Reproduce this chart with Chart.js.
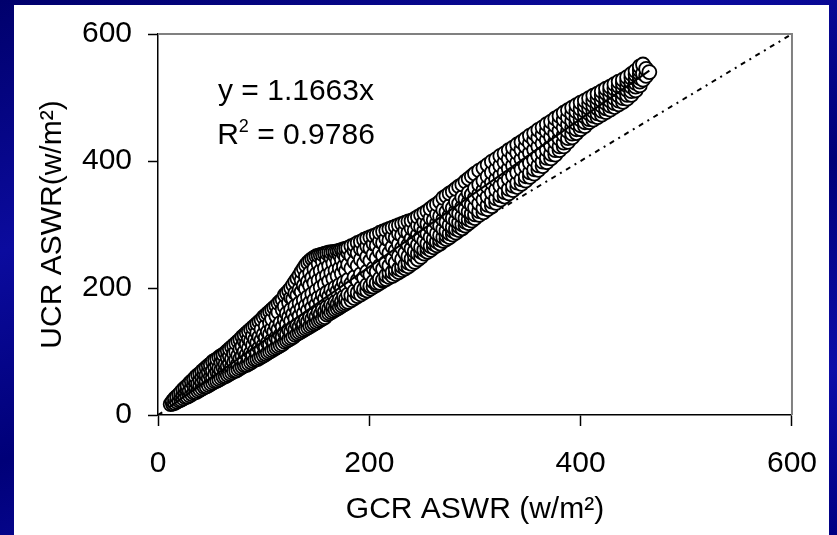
<!DOCTYPE html>
<html>
<head>
<meta charset="utf-8">
<script src="https://cdn.jsdelivr.net/npm/chart.js@4.4.0/dist/chart.umd.min.js"></script>
<style>
html, body { margin: 0; padding: 0; }
body {
    width: 837px; height: 535px; overflow: hidden; position: relative;
    background: linear-gradient(160deg, #00006c 0%, #0b0b9e 30%, #000078 55%, #0d0da8 80%, #000082 100%);
    font-family: "Liberation Sans", Arial, sans-serif;
}
#panel { position: absolute; left: 14px; top: 5px; width: 815px; height: 540px; background: #fff; }
#chartBox { position: absolute; left: 0; top: 0; width: 837px; height: 535px; }
.eq { position: absolute; font-size: 30px; line-height: 30px; color: #000; white-space: nowrap; transform: translateX(-50%); }
.sup { font-size: 18px; position: relative; top: -12px; }
</style>
</head>
<body>
<div id="panel"></div>
<div id="chartBox"><canvas id="chart" width="837" height="535"></canvas></div>
<div class="eq" style="left:296px; top:75px;">y = 1.1663x</div>
<div class="eq" style="left:296px; top:119px;">R<span class="sup">2</span> = 0.9786</div>
<script>
// GCR ASWR (x) columns, each with the UCR ASWR (y) values
const gcrAswr = [12, 14, 16, 18, 20, 22, 24, 26, 28, 30, 32, 34, 36, 38, 40, 42, 44, 46, 48, 50, 52, 54, 56, 58, 60,
    62, 64, 66, 68, 70, 72, 74, 76, 78, 80, 82, 84, 86, 88, 90, 92, 94, 96, 98, 100, 102, 104, 106, 108, 110, 112,
    114, 116, 118, 120, 122, 124, 126, 128, 130, 132, 134, 136, 138, 140, 142, 144, 146, 148, 150, 152, 154, 156, 158,
    160, 162, 164, 166, 168, 170, 172, 174, 176, 178, 180, 183, 186, 189, 192, 195, 198, 201, 204, 207, 210, 213, 216,
    219, 222, 225, 228, 231, 234, 237, 240, 243, 246, 249, 252, 255, 258, 261, 264, 267, 270, 273, 276, 279, 282, 285,
    288, 291, 294, 297, 300, 304, 308, 312, 316, 320, 324, 328, 332, 336, 340, 344, 348, 352, 356, 360, 364, 368, 372,
    376, 380, 384, 388, 392, 396, 400, 404, 408, 412, 416, 420, 424, 428, 432, 436, 440, 444, 448, 452, 456, 459, 462,
    465];
const ucrAswr = [
    [17], [18, 22], [19, 26], [21, 29], [23, 32], [24, 30, 36], [26, 33, 40], [28, 37, 43], [29, 40, 46], [31, 38, 50],
    [33, 43, 53], [35, 47, 56], [36, 44, 52, 60], [38, 49, 63], [40, 47, 56, 65], [42, 52, 61, 69], [44, 55, 65, 72],
    [45, 53, 63, 75], [47, 58, 68, 78], [49, 61, 72, 80], [51, 59, 70, 84], [53, 64, 76, 86], [54, 68, 79, 88],
    [56, 66, 74, 91], [58, 71, 83, 93], [60, 75, 86, 95], [61, 70, 80, 98], [63, 77, 90, 101], [65, 81, 93, 104],
    [67, 76, 88, 107], [69, 83, 97, 110], [70, 87, 100, 113], [72, 81, 94, 116], [74, 89, 104, 119], [76, 93, 108, 123],
    [78, 86, 100, 116, 126], [79, 95, 112, 129], [81, 91, 105, 120, 132], [83, 98, 116, 135], [85, 95, 110, 125, 138],
    [87, 102, 119, 141], [88, 99, 114, 130, 144], [90, 106, 123, 147], [92, 103, 118, 135, 150], [94, 110, 127, 154],
    [96, 107, 122, 140, 157], [98, 114, 131, 160], [100, 111, 127, 145, 163], [102, 118, 136, 151, 166],
    [104, 115, 131, 169], [106, 122, 140, 156, 172], [108, 119, 135, 162, 176], [110, 126, 145, 179],
    [112, 123, 139, 166, 182], [115, 130, 150, 171, 189], [117, 127, 143, 160, 192], [119, 134, 154, 177, 196],
    [121, 131, 148, 166, 185, 200], [123, 138, 159, 183, 205], [126, 135, 152, 171, 192, 210],
    [128, 142, 163, 189, 215], [130, 139, 156, 176, 198, 220], [132, 146, 168, 194, 212, 226],
    [134, 143, 160, 181, 204, 231], [136, 150, 172, 199, 218, 236], [138, 147, 165, 186, 210, 240],
    [140, 154, 177, 204, 224, 243], [142, 151, 169, 191, 216, 246], [144, 158, 181, 208, 230, 248],
    [146, 155, 174, 196, 222, 250], [148, 162, 185, 212, 238, 251], [150, 159, 178, 201, 227, 252],
    [152, 166, 189, 216, 242, 253], [154, 163, 183, 206, 231, 254], [158, 170, 193, 220, 245, 255],
    [160, 167, 187, 211, 235, 256], [162, 174, 197, 224, 248, 256], [164, 171, 191, 215, 239, 257],
    [166, 178, 201, 228, 250, 257], [168, 175, 195, 219, 242, 258], [170, 182, 205, 231, 252, 259],
    [172, 179, 199, 223, 245, 260], [174, 186, 209, 234, 254, 261], [176, 183, 203, 227, 248, 262],
    [178, 190, 213, 237, 256, 263], [181, 188, 207, 231, 251, 266], [184, 195, 217, 241, 259, 268],
    [187, 193, 212, 235, 255, 271], [190, 200, 222, 245, 262, 273], [193, 198, 216, 239, 259, 276],
    [196, 205, 226, 249, 266, 278], [199, 203, 221, 243, 263, 280], [202, 210, 231, 253, 270, 282],
    [205, 208, 226, 247, 267, 284], [208, 215, 235, 257, 274, 287], [211, 213, 230, 251, 271, 289],
    [214, 220, 240, 261, 278, 291], [217, 224, 235, 255, 275, 293], [219, 225, 245, 265, 282, 295],
    [222, 229, 240, 259, 279, 297], [225, 230, 250, 269, 286, 299], [228, 234, 245, 263, 283, 301],
    [231, 236, 255, 273, 290, 303], [234, 240, 250, 268, 287, 305],
    [238, 246, 262, 278, 294, 306], [241, 251, 258, 274, 291, 309], [245, 254, 268, 284, 299, 312],
    [249, 257, 264, 280, 296, 315], [254, 260, 274, 290, 304, 318], [257, 263, 270, 286, 301, 321],
    [260, 266, 280, 296, 310, 325], [264, 270, 277, 292, 307, 329], [267, 273, 286, 302, 316, 332],
    [270, 276, 283, 298, 313, 336], [274, 280, 293, 308, 323, 342], [277, 283, 290, 304, 320, 345],
    [280, 286, 299, 314, 329, 349], [284, 290, 296, 310, 326, 352], [287, 293, 306, 321, 336, 356],
    [291, 297, 303, 317, 333, 360], [294, 300, 313, 328, 343, 363], [298, 304, 310, 324, 340, 368],
    [302, 308, 320, 335, 350, 372], [306, 312, 317, 331, 347, 376], [310, 316, 327, 342, 357, 380],
    [315, 321, 333, 348, 363, 385], [319, 326, 339, 354, 369, 389], [324, 331, 344, 360, 376, 394],
    [329, 336, 350, 366, 382, 399], [334, 341, 355, 371, 387, 403], [339, 346, 361, 377, 393, 408],
    [344, 351, 366, 382, 398, 412], [349, 356, 372, 388, 403, 417], [354, 361, 377, 393, 408, 421],
    [359, 366, 382, 398, 413, 426], [364, 371, 387, 403, 418, 430], [369, 376, 392, 408, 423, 435],
    [375, 382, 397, 413, 428, 440], [380, 387, 402, 418, 433, 444], [386, 393, 408, 423, 437, 449],
    [392, 399, 413, 428, 442, 453], [398, 405, 418, 433, 447, 458], [404, 411, 424, 438, 451, 462],
    [410, 417, 430, 443, 456, 467], [417, 423, 435, 448, 461, 471], [423, 429, 441, 453, 465, 476],
    [430, 436, 447, 458, 469, 480], [437, 443, 453, 463, 474, 484], [444, 450, 459, 468, 478, 488],
    [450, 456, 465, 474, 482, 492], [455, 461, 470, 479, 487, 495], [461, 466, 475, 483, 491, 499],
    [465, 471, 479, 487, 495, 503], [469, 475, 483, 491, 499, 506], [473, 479, 487, 495, 503, 510],
    [477, 483, 491, 499, 507, 514], [481, 487, 495, 503, 511, 517], [485, 491, 499, 507, 514, 521],
    [489, 495, 503, 511, 518, 525], [493, 499, 507, 515, 522, 528], [498, 504, 512, 519, 526, 532],
    [504, 510, 517, 524, 531, 537], [511, 517, 523, 530, 536, 542], [519, 525, 531, 537, 543, 549],
    [528, 538, 552], [534, 545], [540]
];
const trendSlope = 1.1663;
const trendRange = [10, 465];
const identityRange = [0, 600];
const axisTicks = [0, 200, 400, 600];
const xTitle = 'GCR ASWR (w/m²)';
const yTitle = 'UCR ASWR(w/m²)';

const fontFamily = '"Liberation Sans", Arial, sans-serif';

let scatterPoints = [];
gcrAswr.forEach((g, i) => {
    ucrAswr[i].forEach((u) => scatterPoints.push({ x: g, y: u }));
});
let trendPoints = trendRange.map((v) => ({ x: v, y: v * trendSlope }));
let identityPoints = identityRange.map((v) => ({ x: v, y: v }));

// gray frame on top and right of the plot area, like the Excel plot area border
const plotFrame = {
    id: 'plotFrame',
    beforeDatasetsDraw(chart) {
        const { ctx, chartArea } = chart;
        ctx.save();
        ctx.strokeStyle = '#808080';
        ctx.lineWidth = 2;
        ctx.beginPath();
        ctx.moveTo(chartArea.left, chartArea.top);
        ctx.lineTo(chartArea.right, chartArea.top);
        ctx.lineTo(chartArea.right, chartArea.bottom);
        ctx.stroke();
        ctx.restore();
    }
};

const axisBase = {
    type: 'linear',
    min: 0,
    max: 600,
    afterBuildTicks: (scale) => { scale.ticks = axisTicks.map((v) => ({ value: v })); },
    border: { display: true, color: '#000', width: 1.5 },
};

new Chart(document.getElementById('chart'), {
    type: 'scatter',
    data: {
        datasets: [
            {
                label: 'trend',
                data: trendPoints,
                showLine: true,
                borderColor: '#000',
                borderWidth: 2,
                pointRadius: 0,
                order: 0
            },
            {
                label: 'ASWR',
                data: scatterPoints,
                backgroundColor: '#fff',
                borderColor: '#000',
                pointRadius: 7,
                pointHoverRadius: 7,
                borderWidth: 1.8,
                order: 1
            },
            {
                label: '1:1',
                data: identityPoints,
                showLine: true,
                borderColor: '#000',
                borderWidth: 2,
                borderDash: [5, 5, 2, 5],
                pointRadius: 0,
                order: 2
            }
        ]
    },
    options: {
        responsive: false,
        devicePixelRatio: 1,
        animation: false,
        layout: { padding: { top: 34, right: 35, left: 0, bottom: 0 } },
        plugins: { legend: { display: false }, tooltip: { enabled: false } },
        scales: {
            x: {
                ...axisBase,
                grid: { drawOnChartArea: false, drawTicks: true, tickLength: 11, tickColor: '#000', tickWidth: 1.5 },
                ticks: { color: '#000', font: { size: 30, family: fontFamily }, padding: 20, maxRotation: 0 },
                title: { display: true, text: xTitle, color: '#000', font: { size: 30, family: fontFamily }, padding: { top: 0, bottom: 7 } },
                afterFit: (scale) => { scale.height = 120; }
            },
            y: {
                ...axisBase,
                grid: { drawOnChartArea: false, drawTicks: true, tickLength: 10, tickColor: '#000', tickWidth: 1.5 },
                ticks: { color: '#000', font: { size: 30, family: fontFamily }, padding: 16 },
                title: { display: true, text: yTitle, color: '#000', font: { size: 30, family: fontFamily }, padding: { top: 35, bottom: 0 } },
                afterFit: (scale) => { scale.width = 158; }
            }
        }
    },
    plugins: [plotFrame]
});
</script>
</body>
</html>
